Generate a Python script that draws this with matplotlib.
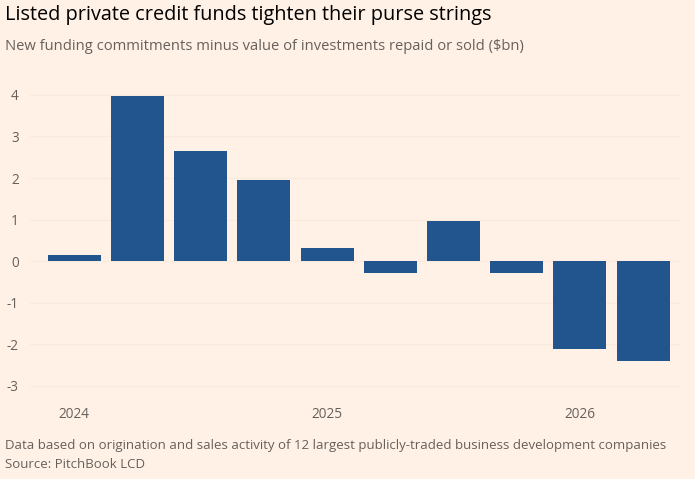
import matplotlib
matplotlib.use("Agg")
import matplotlib.pyplot as plt

# quarterly net commitments, Q1 2024 .. Q2 2026
quarters = ["2024 Q1", "2024 Q2", "2024 Q3", "2024 Q4", "2025 Q1",
            "2025 Q2", "2025 Q3", "2025 Q4", "2026 Q1", "2026 Q2"]
values = [0.14, 3.98, 2.64, 1.94, 0.32, -0.28, 0.97, -0.30, -2.12, -2.40]
year_ticks = [0, 4, 8]
year_labels = ["2024", "2025", "2026"]
y_ticks = [-3, -2, -1, 0, 1, 2, 3, 4]

bg = "#FFF1E5"
bar_color = "#22548E"
text_grey = "#66605C"

plt.rcParams["font.family"] = ["Open Sans", "DejaVu Sans"]

fig = plt.figure(figsize=(6.95, 4.79), dpi=100, facecolor=bg)
ax = fig.add_axes([30 / 695, 0.1735, 651 / 695, 0.6715], facecolor=bg)

x = list(range(len(values)))
ax.bar(x, values, width=0.84, color=bar_color, zorder=3)

ax.set_xlim(-0.7, 9.6)
ax.set_ylim(-3.25, 4.5)
ax.set_yticks(y_ticks)
ax.set_yticklabels([str(t) for t in y_ticks])
ax.set_xticks(year_ticks)
ax.set_xticklabels(year_labels)
ax.grid(axis="y", color="#FBEADC", linewidth=0.8, zorder=0)
ax.tick_params(axis="both", length=0, labelsize=9.8, labelcolor=text_grey)
ax.tick_params(axis="y", pad=8)
ax.tick_params(axis="x", pad=8)
for s in ax.spines.values():
    s.set_visible(False)

fig.text(5 / 695, 1 - 15 / 479, "Listed private credit funds tighten their purse strings",
         fontsize=14.35, color="#000000", va="center", ha="left")
fig.text(5 / 695, 1 - 47 / 479,
         "New funding commitments minus value of investments repaid or sold ($bn)",
         fontsize=10.65, color=text_grey, va="center", ha="left")
fig.text(5 / 695, 1 - 446 / 479,
         "Data based on origination and sales activity of 12 largest publicly-traded business development companies",
         fontsize=9.5, color=text_grey, va="center", ha="left")
fig.text(5 / 695, 1 - 464 / 479, "Source: PitchBook LCD",
         fontsize=9.5, color=text_grey, va="center", ha="left")

fig.savefig("out.png", dpi=100, facecolor=bg)
